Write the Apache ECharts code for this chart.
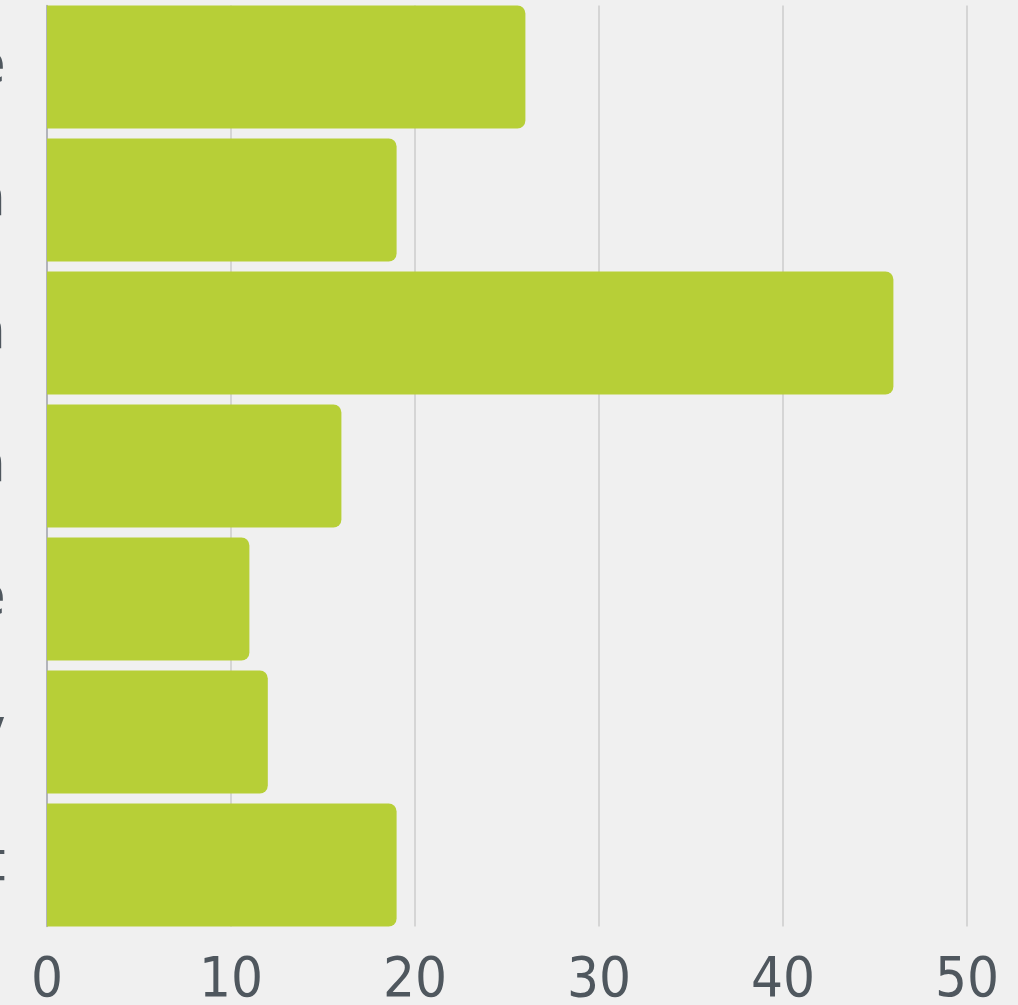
<!DOCTYPE html>
<html>
<head>
<meta charset="utf-8">
<style>
  html, body { margin: 0; padding: 0; background: #f0f0f0; }
  #chart { width: 1018px; height: 1005px; }
</style>
<script src="https://cdn.jsdelivr.net/npm/echarts@6/dist/echarts.min.js"></script>
</head>
<body>
<div id="chart"></div>
<script>
// Sectors, listed top to bottom
const categories = ['Healthcare', 'Education', 'Transportation', 'Construction', 'Agriculture', 'Energy', 'Government'];
// Value for each sector
const values = [26, 19, 46, 16, 11, 12, 19];
// Value axis ticks
const xTicks = [0, 10, 20, 30, 40, 50];

const FONT = '"Liberation Sans Narrow", "DejaVu Sans Condensed", sans-serif';
const TEXT = '#4f575e';

const chart = echarts.init(document.getElementById('chart'), null, { renderer: 'canvas' });

chart.setOption({
  backgroundColor: '#f0f0f0',
  animation: false,
  grid: [
    // bands for the bars (gaps only between bars)
    { left: 47, right: 51, top: 0.5, bottom: 73.5, containLabel: false, outerBoundsMode: 'none' },
    // frame carrying the value gridlines and the left axis line
    { left: 47, right: 51, top: 5.5, bottom: 78.5, containLabel: false, outerBoundsMode: 'none' }
  ],
  xAxis: [
    { gridIndex: 0, type: 'value', min: xTicks[0], max: xTicks[xTicks.length - 1], interval: 10, show: false },
    {
      gridIndex: 1, type: 'value', min: xTicks[0], max: xTicks[xTicks.length - 1], interval: 10,
      axisLine: { show: false },
      axisTick: { show: false },
      splitLine: { show: true, lineStyle: { color: '#cdcdcd', width: 1.5 } },
      axisLabel: { color: TEXT, fontFamily: FONT, fontSize: 56, margin: 27,
        formatter: v => xTicks.includes(v) ? String(v) : '' }
    }
  ],
  yAxis: [
    {
      gridIndex: 0, type: 'category', data: categories, inverse: true,
      axisLine: { show: false },
      axisTick: { show: false },
      splitLine: { show: false },
      axisLabel: { color: TEXT, fontFamily: FONT, fontSize: 56, margin: 41.5 }
    },
    {
      gridIndex: 1, type: 'category', data: categories, inverse: true,
      axisLine: { show: true, lineStyle: { color: '#a6a9b1', width: 1.5 } },
      axisTick: { show: false },
      axisLabel: { show: false },
      splitLine: { show: false }
    }
  ],
  series: [
    {
      type: 'bar',
      xAxisIndex: 0,
      yAxisIndex: 0,
      data: values,
      barCategoryGap: '7.5%',
      itemStyle: { color: '#b7cf37', borderRadius: [0, 8, 8, 0] }
    }
  ]
});
</script>
</body>
</html>
